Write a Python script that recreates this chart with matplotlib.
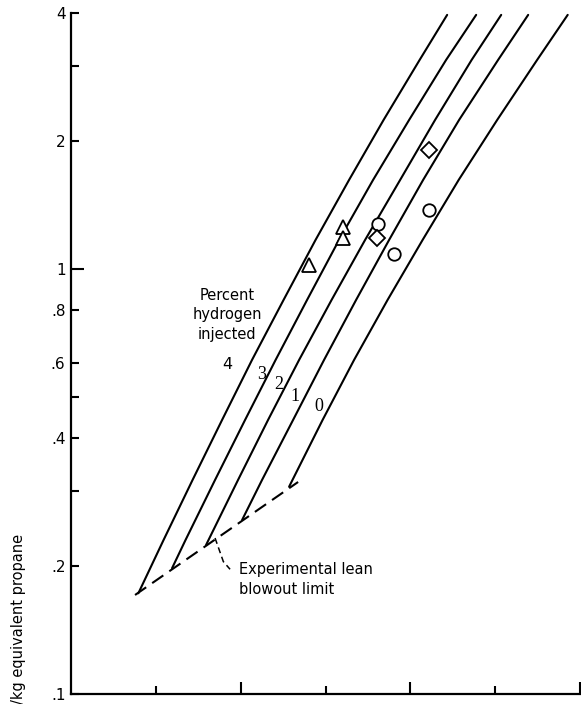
import matplotlib
matplotlib.use("Agg")
import matplotlib.pyplot as plt
from matplotlib.ticker import NullLocator, FixedLocator

# ---- data ----
percent_labels = ["4", "3", "2", "1", "0"]

curve4_x = [4.434, 4.110, 3.685, 3.278, 2.883, 2.506, 2.134, 1.781, 1.433, 1.091, 0.794]
curve4_y = [3.953, 3.098, 2.238, 1.617, 1.1684, 0.8442, 0.6099, 0.4406, 0.3183, 0.2299, 0.1723]

curve3_x = [4.776, 4.422, 3.986, 3.561, 3.160, 2.783, 2.412, 2.052, 1.698, 1.350, 1.191]
curve3_y = [3.953, 3.098, 2.238, 1.617, 1.1684, 0.8442, 0.6099, 0.4406, 0.3183, 0.2299, 0.1973]

curve2_x = [5.071, 4.723, 4.292, 3.880, 3.467, 3.072, 2.689, 2.323, 1.969, 1.592]
curve2_y = [3.953, 3.098, 2.238, 1.617, 1.1684, 0.8442, 0.6099, 0.4406, 0.3183, 0.2238]

curve1_x = [5.389, 5.035, 4.575, 4.151, 3.750, 3.361, 2.983, 2.618, 2.252, 2.017]
curve1_y = [3.953, 3.098, 2.238, 1.617, 1.1684, 0.8442, 0.6099, 0.4406, 0.3183, 0.2563]

curve0_x = [5.855, 5.495, 5.024, 4.570, 4.145, 3.732, 3.337, 2.966, 2.571]
curve0_y = [3.953, 3.098, 2.238, 1.617, 1.1684, 0.8442, 0.6099, 0.4406, 0.3069]

curves_x = [curve4_x, curve3_x, curve2_x, curve1_x, curve0_x]
curves_y = [curve4_y, curve3_y, curve2_y, curve1_y, curve0_y]

# curve label anchor positions
label_x = [1.837, 2.249, 2.445, 2.642, 2.916]
label_y = [0.5934, 0.5622, 0.5325, 0.4998, 0.4734]

# experimental lean blowout limit (dashed)
blowout_x = [0.755, 2.677]
blowout_y = [0.1707, 0.3148]

# leader line for the blowout note
leader_x = [1.698, 1.796, 1.875]
leader_y = [0.2324, 0.2045, 0.1962]

# data points
tri_x = [2.810, 3.211, 3.211]
tri_y = [1.020, 1.255, 1.179]
circ_x = [3.624, 3.809, 4.225]
circ_y = [1.272, 1.083, 1.374]
diam_x = [3.605, 4.225]
diam_y = [1.179, 1.902]

y_ticks = [4, 3, 2, 1, 0.8, 0.6, 0.5, 0.4, 0.3, 0.2, 0.1]
y_tick_labels = ["4", "", "2", "1", ".8", ".6", "", ".4", "", ".2", ".1"]
x_major_ticks = [2, 4, 6]
x_minor_ticks = [1, 3, 5]

# ---- figure ----
fig = plt.figure(figsize=(5.81, 7.04), dpi=100)
ax = fig.add_axes([71 / 581, 10.3 / 704, 509 / 581, 681 / 704])
ax.set_yscale("log")
ax.set_xlim(0, 6)
ax.set_ylim(0.1, 4)

for s in ("top", "right"):
    ax.spines[s].set_visible(False)
for s in ("left", "bottom"):
    ax.spines[s].set_linewidth(1.6)

ax.yaxis.set_minor_locator(NullLocator())
ax.set_yticks(y_ticks)
ax.set_yticklabels(y_tick_labels)
ax.tick_params(axis="y", which="major", direction="in", length=6, width=1.5,
               pad=4, labelsize=11)
for t, v in zip(ax.yaxis.get_major_ticks(), y_ticks):
    if v == 1:
        t.tick1line.set_markersize(9.5)

ax.xaxis.set_major_locator(FixedLocator(x_major_ticks))
ax.xaxis.set_minor_locator(FixedLocator(x_minor_ticks))
ax.tick_params(axis="x", which="major", direction="in", length=9, width=1.5,
               labelbottom=False)
ax.tick_params(axis="x", which="minor", direction="in", length=6, width=1.5,
               labelbottom=False)

for cx, cy in zip(curves_x, curves_y):
    ax.plot(cx, cy, color="black", lw=1.5, solid_capstyle="round",
            solid_joinstyle="round")

ax.plot(blowout_x, blowout_y, color="black", lw=1.5, dashes=(6.5, 3.5))
ax.plot(leader_x, leader_y, color="black", lw=1.1, dashes=(4, 2.5))

ax.plot(tri_x, tri_y, linestyle="none", marker="^", ms=9.5, mfc="white",
        mec="black", mew=1.3, zorder=4)
ax.plot(circ_x, circ_y, linestyle="none", marker="o", ms=9, mfc="white",
        mec="black", mew=1.3, zorder=4)
ax.plot(diam_x, diam_y, linestyle="none", marker="D", ms=8.5, mfc="white",
        mec="black", mew=1.3, zorder=4)

for i, (lab, lx, ly) in enumerate(zip(percent_labels, label_x, label_y)):
    if i == 0:
        ax.text(lx, ly, lab, ha="center", va="center", fontsize=11.5,
                family="DejaVu Sans")
    else:
        ax.text(lx, ly, lab, ha="center", va="center", fontsize=13,
                family=["Liberation Serif", "DejaVu Serif"])

ax.text(1.84, 0.778, "Percent\nhydrogen\ninjected", ha="center", va="center",
        fontsize=10.5, linespacing=1.35, multialignment="center")

ax.text(1.985, 0.1955, "Experimental lean", ha="left", va="center", fontsize=10.5)
ax.text(1.985, 0.1754, "blowout limit", ha="left", va="center", fontsize=10.5)

fig.text(19 / 581, 1 - 534 / 704, "/kg equivalent propane", rotation=90,
         ha="center", va="top", fontsize=10.5)

fig.savefig("out.png", dpi=100, facecolor="white")
